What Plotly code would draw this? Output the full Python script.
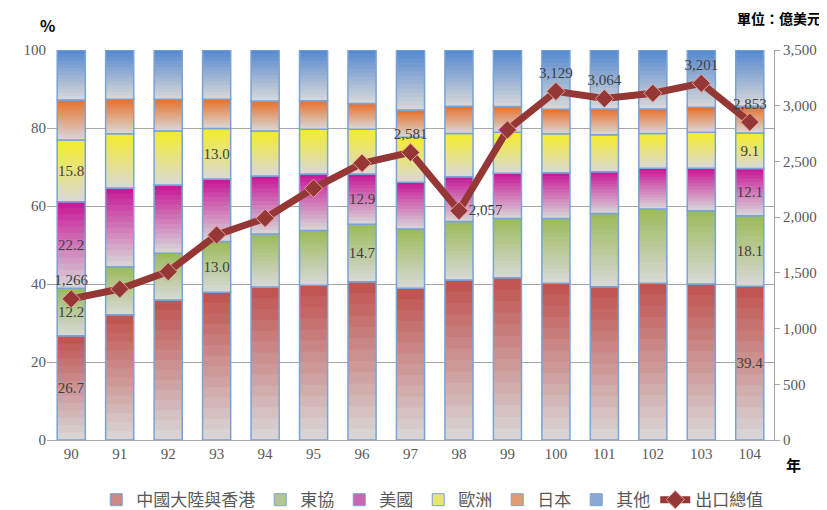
import plotly.graph_objects as go

years = ["90", "91", "92", "93", "94", "95", "96", "97", "98", "99", "100", "101", "102", "103", "104"]
china = [26.7, 32.1, 35.9, 37.9, 39.2, 39.7, 40.6, 38.9, 41.0, 41.6, 40.2, 39.3, 40.2, 40.0, 39.4]
asean = [12.2, 12.3, 12.0, 13.0, 13.6, 14.0, 14.7, 15.2, 15.0, 15.2, 16.6, 18.8, 19.0, 18.8, 18.1]
usa = [22.2, 20.2, 17.5, 16.0, 14.9, 14.5, 12.9, 12.0, 11.5, 11.6, 11.7, 10.7, 10.5, 10.9, 12.1]
europe = [15.8, 13.9, 13.8, 13.0, 11.5, 11.5, 11.5, 11.5, 11.1, 10.5, 10.0, 9.5, 8.9, 9.2, 9.1]
japan = [10.3, 8.9, 8.2, 7.5, 7.7, 7.3, 6.6, 7.0, 7.0, 6.6, 6.3, 6.6, 6.3, 6.4, 6.9]
other = [12.8, 12.6, 12.6, 12.6, 13.1, 13.0, 13.7, 15.4, 14.4, 14.5, 15.2, 15.1, 15.1, 14.7, 14.4]
exports = [1266, 1355, 1511, 1840, 1990, 2259, 2484, 2581, 2057, 2783, 3129, 3064, 3112, 3201, 2853]

series_names = ["中國大陸與香港", "東協", "美國", "歐洲", "日本", "其他"]
series_vals = [china, asean, usa, europe, japan, other]
series_colors = [(192, 80, 77), (155, 187, 89), (199, 22, 150), (245, 236, 40), (232, 112, 42), (84, 136, 208)]
label_years = {0: ["90", "104"], 1: ["90", "93", "96", "104"], 2: ["90", "96", "104"], 3: ["90", "93", "104"]}
line_label_years = ["90", "97", "98", "100", "101", "103", "104"]

GRAY = (217, 217, 217)
N = 14
BW = 0.58
fig = go.Figure()

bottoms = [0.0] * len(years)
for si, (name, vals, col) in enumerate(zip(series_names, series_vals, series_colors)):
    for k in range(N):
        t = (k + 0.5) / N
        c = tuple(int(round(GRAY[j] + (col[j] - GRAY[j]) * t)) for j in range(3))
        ext = 1.0 if k == N - 1 else 1.6
        fig.add_trace(go.Bar(
            x=years, y=[v / N * ext for v in vals],
            base=[b + v * k / N for b, v in zip(bottoms, vals)],
            width=BW, marker=dict(color="rgb(%d,%d,%d)" % c, line=dict(width=0)),
            showlegend=False, hoverinfo="skip", yaxis="y"))
    shown = label_years.get(si, [])
    texts = [("%.1f" % v) if y in shown else "" for y, v in zip(years, vals)]
    fig.add_trace(go.Bar(
        x=years, y=vals, base=list(bottoms), width=BW,
        marker=dict(color="rgba(0,0,0,0)", line=dict(color="#7aa3d6", width=1.5)),
        text=texts, textposition="inside", insidetextanchor="middle",
        textangle=0, constraintext="none",
        textfont=dict(family="Liberation Serif", size=15, color="#404040"),
        showlegend=False, hoverinfo="skip"))
    bottoms = [b + v for b, v in zip(bottoms, vals)]

for name, col in zip(series_names, series_colors):
    c = tuple(int(round(GRAY[j] + (col[j] - GRAY[j]) * 0.6)) for j in range(3))
    fig.add_trace(go.Bar(x=[years[0]], y=[None], name=name,
                         marker=dict(color="rgb(%d,%d,%d)" % c, line=dict(color="#7aa3d6", width=1))))

line_text = [("{:,}".format(v) if y in line_label_years else "") for y, v in zip(years, exports)]
tpos = ["middle right" if y == "98" else "top center" for y in years]
fig.add_trace(go.Scatter(
    x=years, y=exports, yaxis="y2", name="出口總值", mode="lines+markers+text",
    line=dict(color="#953735", width=7),
    marker=dict(symbol="diamond", size=14, color="#953735", line=dict(color="#e6a3a0", width=1)),
    text=line_text, textposition=tpos,
    textfont=dict(family="Liberation Serif", size=15, color="#404040")))

# the page body adds an 8px offset; margins compensate so the plot lands where the reference has it
fig.update_layout(
    width=827, height=510,
    margin=dict(l=39, r=61, t=42, b=78, autoexpand=False),
    paper_bgcolor="white", plot_bgcolor="white",
    barmode="overlay",
    font=dict(family="Liberation Serif", size=15, color="#595959"),
    xaxis=dict(type="category", range=[-0.5, 14.5], showline=True, linecolor="#a6a6a6", linewidth=1,
               automargin=False, ticks="",
               tickfont=dict(family="Liberation Serif", size=15, color="#595959")),
    yaxis=dict(range=[0, 100], dtick=20, showgrid=True, gridcolor="#a6a6a6", gridwidth=1,
               zeroline=False, showline=False, ticks="", automargin=False,
               tickfont=dict(family="Liberation Serif", size=15, color="#595959")),
    yaxis2=dict(range=[0, 3500], dtick=500, overlaying="y", side="right", showgrid=False,
                zeroline=False, showline=True, linecolor="#a6a6a6", ticks="outside", ticklen=5,
                tickcolor="#a6a6a6", tickformat=",", automargin=False,
                tickfont=dict(family="Liberation Serif", size=15, color="#595959")),
    legend=dict(orientation="h", xref="container", yref="container", x=0.513, xanchor="center",
                y=0.035, yanchor="middle", itemwidth=30,
                font=dict(family="Noto Sans CJK TC", size=17, color="#595959"),
                traceorder="normal"),
    annotations=[
        dict(text="<b>%</b>", xref="paper", yref="paper", x=0.0, y=1.064, showarrow=False,
             font=dict(family="Noto Sans CJK TC", size=16, color="#000000"), xanchor="center", yanchor="middle"),
        dict(text="<b>單位：億美元</b>", xref="paper", yref="paper", x=1.0675, y=1.082, showarrow=False,
             font=dict(family="Noto Sans CJK TC", size=14, color="#000000"), xanchor="right", yanchor="middle"),
        dict(text="<b>年</b>", xref="paper", yref="paper", x=1.0275, y=-0.064, showarrow=False,
             font=dict(family="Noto Sans CJK TC", size=15, color="#000000"), xanchor="center", yanchor="middle"),
    ],
)

fig.write_html("out.html")
